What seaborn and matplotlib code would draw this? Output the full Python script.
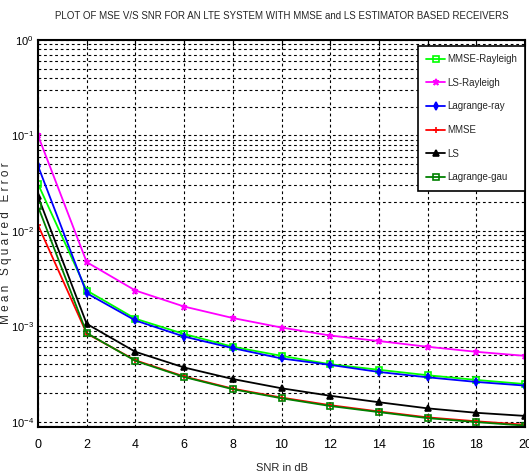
import numpy as np
import pandas as pd
import matplotlib
matplotlib.use("Agg")
import matplotlib.pyplot as plt
import seaborn as sns
from matplotlib.ticker import LogLocator, NullFormatter

snr_db = [0, 2, 4, 6, 8, 10, 12, 14, 16, 18, 20]

mmse_rayleigh = [3.1e-2, 2.37e-3, 1.20e-3, 8.3e-4, 6.1e-4, 4.9e-4, 4.0e-4, 3.5e-4, 3.07e-4, 2.74e-4, 2.48e-4]
ls_rayleigh   = [1.0e-1, 4.7e-3, 2.37e-3, 1.61e-3, 1.22e-3, 9.7e-4, 8.0e-4, 7.0e-4, 6.1e-4, 5.4e-4, 4.9e-4]
lagrange_ray  = [4.8e-2, 2.22e-3, 1.15e-3, 7.8e-4, 5.9e-4, 4.6e-4, 3.94e-4, 3.32e-4, 2.92e-4, 2.61e-4, 2.39e-4]
mmse          = [1.15e-2, 8.4e-4, 4.4e-4, 2.98e-4, 2.22e-4, 1.79e-4, 1.49e-4, 1.28e-4, 1.11e-4, 1.01e-4, 9.3e-5]
ls            = [2.3e-2, 1.06e-3, 5.4e-4, 3.7e-4, 2.8e-4, 2.24e-4, 1.87e-4, 1.60e-4, 1.38e-4, 1.24e-4, 1.15e-4]
lagrange_gau  = [1.8e-2, 8.5e-4, 4.34e-4, 2.94e-4, 2.19e-4, 1.76e-4, 1.46e-4, 1.26e-4, 1.09e-4, 9.9e-5, 9.1e-5]

series_names = ["MMSE-Rayleigh", "LS-Rayleigh", "Lagrange-ray", "MMSE", "LS", "Lagrange-gau"]
series_vals = [mmse_rayleigh, ls_rayleigh, lagrange_ray, mmse, ls, lagrange_gau]
colors = ["#00ff00", "#ff00ff", "#0000ff", "#ff0000", "#000000", "#008000"]
markers = ["s", "*", "d", "+", "^", "s"]
mfaces = ["none", "#ff00ff", "#0000ff", "#ff0000", "#000000", "none"]
msizes = [4, 5, 4, 5, 4.5, 4]

df = pd.DataFrame({
    "snr": np.tile(snr_db, len(series_names)),
    "mse": np.concatenate(series_vals),
    "series": np.repeat(series_names, len(snr_db)),
})

sns.set_style("white")
plt.rcParams["font.family"] = ["Liberation Sans Narrow", "Liberation Sans", "DejaVu Sans"]
plt.rcParams["mathtext.fontset"] = "custom"
plt.rcParams["mathtext.rm"] = "Liberation Sans"

fig = plt.figure(figsize=(5.29, 4.72), dpi=100)
ax = fig.add_axes([38/529, 1 - 427/472, (525 - 38)/529, (427 - 40)/472])

for name, c, m, fc, ms in zip(series_names, colors, markers, mfaces, msizes):
    sub = df[df["series"] == name]
    sns.lineplot(data=sub, x="snr", y="mse", ax=ax, color=c, marker=m,
                 markersize=ms, markerfacecolor=fc, markeredgecolor=c,
                 markeredgewidth=1.2, linewidth=1.3, label=name)

ax.set_yscale("log")
ax.set_xlim(0, 20)
ax.set_ylim(8.8e-5, 1.0)
ax.set_xticks(range(0, 21, 2))
ax.yaxis.set_major_locator(LogLocator(base=10, numticks=10))
ax.yaxis.set_minor_locator(LogLocator(base=10, subs=np.arange(2, 10), numticks=20))
ax.yaxis.set_minor_formatter(NullFormatter())

grid_kw = dict(color="black", linestyle=(0, (2.5, 2.5)), linewidth=0.8)
ax.grid(True, which="major", axis="both", **grid_kw)
ax.grid(True, which="minor", axis="y", **grid_kw)

for s in ax.spines.values():
    s.set_color("black")
    s.set_linewidth(1.5)
ax.tick_params(axis="both", which="both", direction="in", top=True, right=True,
               colors="black")
ax.tick_params(axis="x", which="major", length=4, pad=9, labelsize=9)
ax.tick_params(axis="y", which="major", length=4, pad=3, labelsize=8)
ax.tick_params(axis="both", which="minor", length=2)

ax.set_xlabel("SNR in dB", fontsize=8)
ax.xaxis.set_label_coords(0.5, -(463 - 427) / 387)
ax.set_ylabel("M e a n   S q u a r e d   E r r o r", fontsize=8.5)
ax.yaxis.set_label_coords(-(38 - 12) / 487, 1 - (243 - 40) / 387)
ax.set_title("PLOT OF MSE V/S SNR FOR AN LTE SYSTEM WITH MMSE and LS ESTIMATOR BASED RECEIVERS",
             fontsize=7, pad=15)

leg = ax.legend(loc="upper right", bbox_to_anchor=(1.0, 1 - 6 / 387), fontsize=7,
                frameon=True, fancybox=False, borderaxespad=0,
                handlelength=2.0, labelspacing=1.4, borderpad=0.85,
                handletextpad=0.15)
leg.get_frame().set_edgecolor("black")
leg.get_frame().set_linewidth(1.2)
leg.get_frame().set_alpha(1)

fig.savefig("out.png", dpi=100)
